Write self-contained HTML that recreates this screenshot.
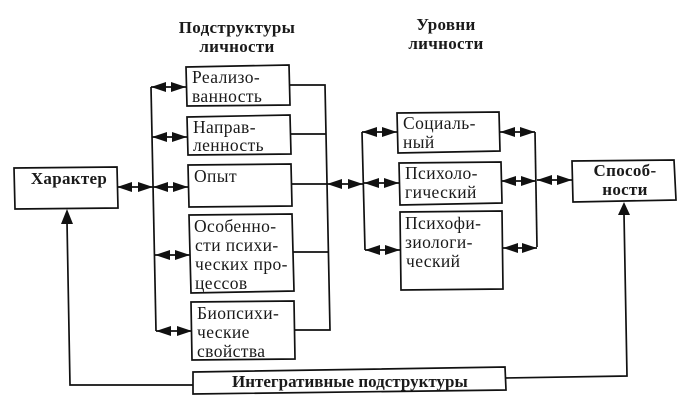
<!DOCTYPE html>
<html><head><meta charset="utf-8"><style>
html,body{margin:0;padding:0;background:#fff}
svg{display:block}
text{font-family:"Liberation Serif",serif;fill:#1a1a1a;font-size:17.5px;letter-spacing:.4px}
.b{font-weight:bold;font-size:17px;letter-spacing:.3px}
.c{text-anchor:middle}
.box{fill:#fff;stroke:#111;stroke-width:1.7}
.l{fill:none;stroke:#111;stroke-width:1.7}
</style></head><body>
<svg width="690" height="408" viewBox="0 0 690 408" xmlns="http://www.w3.org/2000/svg">
<defs><marker id="a" markerUnits="userSpaceOnUse" markerWidth="15" markerHeight="10" refX="15" refY="5" orient="auto-start-reverse" overflow="visible"><path d="M0 0L15 5L0 10Z" fill="#111"/></marker></defs>

<text class="b c" x="237" y="33">Подструктуры</text>
<text class="b c" x="237" y="52">личности</text>
<text class="b c" x="446" y="30">Уровни</text>
<text class="b c" x="446" y="49">личности</text>

<path class="l" d="M151 87L156 331"/>
<path class="l" d="M289 85H325L330 330H295"/>
<path class="l" d="M290 134H326M293 252H328"/>
<path class="l" d="M362 132L365 250"/>
<path class="l" d="M535 132L537 247"/>
<path class="l" d="M193 385H70L67 222"/>
<path class="l" d="M505 378L627 376L624 214"/>
<path d="M67 209L61 224H73Z M624 202L618 215H630Z" fill="#111"/>
<path class="l" d="M291 184H328"/>

<g class="l">
<line x1="151" y1="87" x2="186" y2="87" marker-start="url(#a)" marker-end="url(#a)"/>
<line x1="152" y1="137" x2="187" y2="137" marker-start="url(#a)" marker-end="url(#a)"/>
<line x1="153" y1="187" x2="188" y2="187" marker-start="url(#a)" marker-end="url(#a)"/>
<line x1="117" y1="187" x2="153" y2="187" marker-start="url(#a)" marker-end="url(#a)"/>
<line x1="155" y1="255" x2="190" y2="255" marker-start="url(#a)" marker-end="url(#a)"/>
<line x1="156" y1="331" x2="192" y2="331" marker-start="url(#a)" marker-end="url(#a)"/>
<line x1="327" y1="184" x2="363" y2="184" marker-start="url(#a)" marker-end="url(#a)"/>
<line x1="362" y1="132" x2="397" y2="132" marker-start="url(#a)" marker-end="url(#a)"/>
<line x1="364" y1="183" x2="399" y2="183" marker-start="url(#a)" marker-end="url(#a)"/>
<line x1="365" y1="250" x2="400" y2="250" marker-start="url(#a)" marker-end="url(#a)"/>
<line x1="500" y1="132" x2="535" y2="132" marker-start="url(#a)" marker-end="url(#a)"/>
<line x1="501" y1="181" x2="536" y2="181" marker-start="url(#a)" marker-end="url(#a)"/>
<line x1="503" y1="248" x2="537" y2="248" marker-start="url(#a)" marker-end="url(#a)"/>
<line x1="537" y1="180" x2="572" y2="180" marker-start="url(#a)" marker-end="url(#a)"/>
</g>

<path class="box" d="M14 168L117 167L118 208L15 209Z"/>
<path class="box" d="M186 67L289 65L290 105L187 106Z"/>
<path class="box" d="M187 117L290 115L291 154L188 155Z"/>
<path class="box" d="M188 165L291 164L292 206L189 207Z"/>
<path class="box" d="M189 215L292 214L294 291L191 293Z"/>
<path class="box" d="M191 302L294 301L295 359L192 360Z"/>
<path class="box" d="M193 372L505 367L506 390L193 394Z"/>
<path class="box" d="M397 113L499 112L500 151L398 153Z"/>
<path class="box" d="M399 163L501 162L502 203L400 205Z"/>
<path class="box" d="M400 212L502 211L503 289L401 290Z"/>
<path class="box" d="M572 161L674 160L676 200L573 202Z"/>

<text class="b c" x="69" y="184">Характер</text>
<text x="192" y="83">Реализо-</text>
<text x="192" y="102">ванность</text>
<text x="193" y="133">Направ-</text>
<text x="193" y="151">ленность</text>
<text x="194" y="182">Опыт</text>
<text x="194" y="232">Особенно-</text>
<text x="195" y="251">сти психи-</text>
<text x="195" y="270">ческих про-</text>
<text x="195" y="289">цессов</text>
<text x="197" y="319">Биопсихи-</text>
<text x="197" y="338">ческие</text>
<text x="197" y="357">свойства</text>
<text class="b" x="232" y="387" style="letter-spacing:0">Интегративные подструктуры</text>
<text x="403" y="129">Социаль-</text>
<text x="403" y="148">ный</text>
<text x="405" y="179">Психоло-</text>
<text x="405" y="198">гический</text>
<text x="405" y="229">Психофи-</text>
<text x="405" y="248">зиологи-</text>
<text x="406" y="267">ческий</text>
<text class="b c" x="625" y="176">Способ-</text>
<text class="b c" x="625" y="195">ности</text>
</svg>
</body></html>
